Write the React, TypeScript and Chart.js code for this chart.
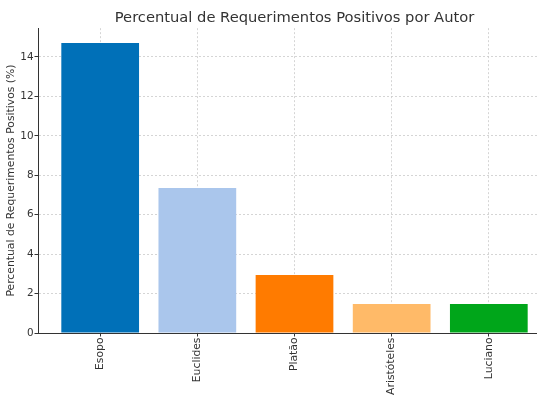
import { useEffect, useRef } from "react";
import { Chart, registerables } from "chart.js";

Chart.register(...registerables);

const authors = ["Esopo", "Euclides", "Platão", "Aristóteles", "Luciano"];
const percentages = [14.71, 7.35, 2.94, 1.47, 1.47];
const barColors = ["#0070b8", "#aac6ec", "#ff7b00", "#ffba68", "#00a61a"];
const yTicks = [0, 2, 4, 6, 8, 10, 12, 14];

const FONT = "'DejaVu Sans', sans-serif";
const TEXT = "#333333";
const GRID = "#cbcbcb";

const App = () => {
  const chartRef = useRef<HTMLCanvasElement>(null);
  const chartInstance = useRef<Chart | null>(null);

  useEffect(() => {
    if (!chartRef.current) return;
    const ctx = chartRef.current.getContext("2d");
    if (!ctx) return;

    chartInstance.current = new Chart(ctx, {
      type: "bar",
      data: {
        datasets: [{
          data: percentages.map((v, i) => ({ x: i, y: v })),
          backgroundColor: barColors,
          borderWidth: 0,
          categoryPercentage: 0.8,
          barPercentage: 1,
        }]
      },
      options: {
        responsive: false,
        animation: false,
        layout: { padding: 0 },
        plugins: {
          legend: { display: false },
          tooltip: { enabled: false },
          title: {
            display: true,
            text: "Percentual de Requerimentos Positivos por Autor",
            fullSize: false,
            color: TEXT,
            font: { family: FONT, size: 14.7, weight: "normal" },
            padding: { top: 9, bottom: 1.5 },
          },
        },
        scales: {
          x: {
            type: "linear",
            min: -0.64,
            max: 4.64,
            offset: false,
            z: 1,
            afterBuildTicks: (scale) => {
              scale.ticks = authors.map((_, i) => ({ value: i }));
            },
            afterFit: (scale) => {
              scale.height = 71;
            },
            grid: {
              offset: false,
              color: GRID,
              lineWidth: 0.8,
              drawTicks: true,
              tickLength: 3.5,
              tickColor: TEXT,
              tickWidth: 1,
            },
            border: { display: true, color: TEXT, width: 1, dash: [2, 2] },
            ticks: {
              autoSkip: false,
              minRotation: 90,
              maxRotation: 90,
              padding: 1,
              color: TEXT,
              font: { family: FONT, size: 10.8 },
              callback: (value) => authors[Number(value)],
            },
          },
          y: {
            min: 0,
            max: 15.46,
            z: 1,
            afterBuildTicks: (scale) => {
              scale.ticks = yTicks.map((v) => ({ value: v }));
            },
            afterFit: (scale) => {
              scale.width = 38;
            },
            grid: {
              color: GRID,
              lineWidth: 0.8,
              drawTicks: true,
              tickLength: 3.5,
              tickColor: TEXT,
              tickWidth: 1,
            },
            border: { display: true, color: TEXT, width: 1, dash: [2, 2] },
            ticks: {
              padding: 1,
              color: TEXT,
              font: { family: FONT, size: 10.4 },
            },
            title: {
              display: true,
              text: "Percentual de Requerimentos Positivos (%)",
              color: TEXT,
              font: { family: FONT, size: 10.8 },
              padding: { top: 5, bottom: 0 },
            },
          },
        },
      },
    });

    return () => {
      if (chartInstance.current) {
        chartInstance.current.destroy();
        chartInstance.current = null;
      }
    };
  }, []);

  return (
    <div style={{ position: "fixed", left: 0, top: 0, width: 537, height: 404, overflow: "hidden", background: "#fff" }}>
      <canvas ref={chartRef} width={551} height={404} />
    </div>
  );
};

export default App;
